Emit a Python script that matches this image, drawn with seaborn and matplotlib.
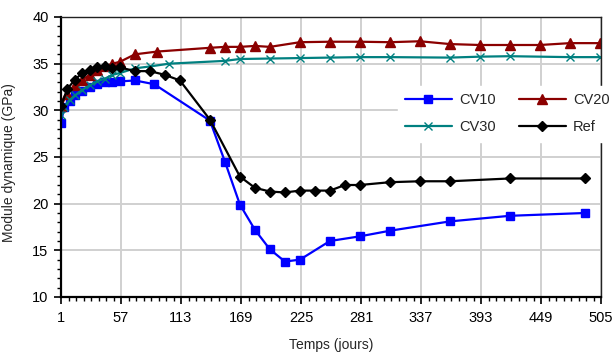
import numpy as np
import matplotlib
matplotlib.use("Agg")
import matplotlib.pyplot as plt
from matplotlib.ticker import FixedLocator, MultipleLocator
import seaborn as sns

# data (days, dynamic modulus in GPa)
cv10_days = [1, 4, 9, 14, 21, 28, 35, 42, 49, 56, 70, 88, 140, 154, 168, 182, 196, 210, 224,
             252, 280, 308, 364, 420, 490]
cv10_vals = [28.6, 30.4, 31.0, 31.6, 32.1, 32.5, 32.8, 33.0, 33.0, 33.1, 33.2, 32.8, 28.9, 24.5,
             19.9, 17.2, 15.1, 13.8, 14.0, 16.0, 16.5, 17.1, 18.1, 18.7, 19.0]

cv20_days = [1, 7, 14, 21, 28, 35, 42, 49, 56, 70, 91, 140, 154, 168, 182, 196, 224, 252, 280,
             308, 336, 364, 392, 420, 448, 476, 504]
cv20_vals = [30.5, 31.8, 32.7, 33.3, 33.8, 34.3, 34.7, 35.0, 35.2, 36.0, 36.3, 36.7, 36.8, 36.8,
             36.9, 36.8, 37.3, 37.35, 37.35, 37.3, 37.4, 37.1, 37.0, 37.0, 37.0, 37.2, 37.2]

cv30_days = [1, 4, 9, 14, 21, 28, 35, 42, 49, 56, 70, 84, 102, 154, 168, 196, 224, 252, 280,
             308, 364, 392, 420, 476, 504]
cv30_vals = [29.5, 30.4, 31.1, 31.6, 32.2, 32.7, 33.1, 33.4, 33.8, 34.0, 34.5, 34.7, 35.0, 35.3,
             35.5, 35.55, 35.6, 35.65, 35.7, 35.7, 35.65, 35.75, 35.8, 35.7, 35.7]

ref_days = [1, 7, 14, 21, 28, 35, 42, 49, 56, 70, 84, 98, 112, 140, 168, 182, 196, 210, 224, 238,
            252, 266, 280, 308, 336, 364, 420, 490]
ref_vals = [30.5, 32.3, 33.3, 34.0, 34.3, 34.6, 34.7, 34.5, 34.6, 34.2, 34.2, 33.8, 33.2, 29.0,
            22.9, 21.7, 21.3, 21.2, 21.4, 21.4, 21.4, 22.0, 22.0, 22.3, 22.4, 22.4, 22.7, 22.7]

x_ticks = list(range(1, 506, 56))

sns.set_theme(style="whitegrid")
plt.rcParams['font.family'] = ['Liberation Sans', 'DejaVu Sans']

fig = plt.figure(figsize=(6.12, 3.54), dpi=100)
ax = fig.add_axes([61 / 612, 57 / 354, 540 / 612, 280 / 354])
ax.set_facecolor('white')

series = [
    ("CV10", cv10_days, cv10_vals, '#0000FF', 's', 5.5),
    ("CV20", cv20_days, cv20_vals, '#8B0000', '^', 6.5),
    ("CV30", cv30_days, cv30_vals, '#008080', 'x', 6.0),
    ("Ref", ref_days, ref_vals, '#000000', 'D', 5.0),
]
for name, d, v, col, mk, ms in series:
    sns.lineplot(x=d, y=v, ax=ax, color=col, marker=mk, markersize=ms,
                 markeredgecolor=col, markerfacecolor=col, markeredgewidth=1.0,
                 linewidth=1.6, label=name)

ax.set_xlim(1, 505)
ax.set_ylim(10, 40)
ax.xaxis.set_major_locator(FixedLocator(x_ticks))
ax.xaxis.set_minor_locator(FixedLocator(np.arange(1, 506, 7)))
ax.yaxis.set_major_locator(MultipleLocator(5))
ax.yaxis.set_minor_locator(MultipleLocator(1))

ax.grid(True, which='major', color='#d0d0d0', linewidth=1.4)
ax.grid(False, which='minor')
ax.set_axisbelow(True)

for side in ['left', 'bottom']:
    ax.spines[side].set_color('black')
    ax.spines[side].set_linewidth(1.6)
for side in ['top', 'right']:
    ax.spines[side].set_color('#222222')
    ax.spines[side].set_linewidth(1.0)

ax.tick_params(axis='both', which='major', direction='out', length=5, width=1.2,
               color='black', labelsize=10.5, labelcolor='black', left=True, bottom=True)
ax.tick_params(axis='both', which='minor', direction='out', length=3, width=1.0,
               color='black', left=True, bottom=True)
ax.tick_params(axis='x', which='major', pad=5)
ax.tick_params(axis='y', which='major', pad=4)

ax.set_xlabel("Temps (jours)", fontsize=10)
ax.set_ylabel("Module dynamique (GPa)", fontsize=10)
ax.xaxis.set_label_coords(0.5, -0.145)
ax.yaxis.set_label_coords(-0.083, 0.48)

# legend filled row by row like the original: CV10, CV20 / CV30, Ref
handles, labels = ax.get_legend_handles_labels()
order = [0, 2, 1, 3]
leg = ax.legend([handles[i] for i in order], [labels[i] for i in order],
                ncol=2, loc='upper left', bbox_to_anchor=(0.61, 0.78), frameon=True,
                fontsize=10.5, handlelength=3.2, columnspacing=1.6, handletextpad=0.5,
                labelspacing=0.9, borderpad=0.5)
leg.get_frame().set_facecolor('white')
leg.get_frame().set_edgecolor('white')
leg.get_frame().set_alpha(1.0)

fig.savefig("out.png", dpi=100)
